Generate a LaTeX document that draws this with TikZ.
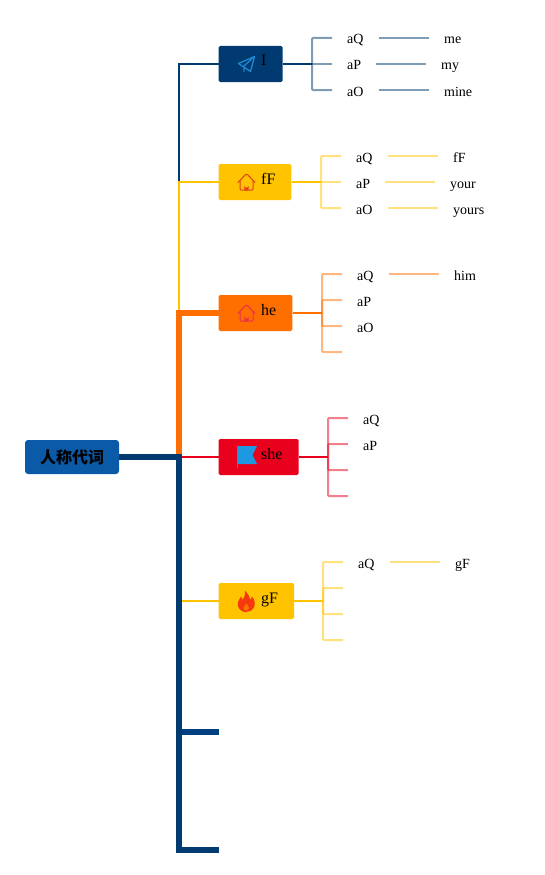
\documentclass[tikz,border=0pt]{standalone}
\usepackage{fontspec}
\setmainfont{Liberation Serif}
\newfontfamily\cjk{Noto Sans CJK SC}
\definecolor{navyb}{HTML}{003A70}
\definecolor{rootb}{HTML}{0B5AA8}
\definecolor{stubb}{HTML}{003F80}
\definecolor{yellowb}{HTML}{FFC300}
\definecolor{orangeb}{HTML}{FF6F00}
\definecolor{redb}{HTML}{E8001C}
\definecolor{iconb}{HTML}{1E88D0}
\definecolor{flagb}{HTML}{1E98E0}
\definecolor{homea}{HTML}{E0401E}
\definecolor{homeb}{HTML}{E8304A}
\definecolor{flameb}{HTML}{F5380F}
\tikzset{
  topic/.style={anchor=west,rounded corners=1.5pt,minimum height=36pt,inner xsep=16pt,inner ysep=0pt,text height=12pt,text depth=8pt,font=\fontsize{16}{18}\selectfont},
  leaf/.style={anchor=west,inner xsep=15pt,inner ysep=0pt,text height=14pt,text depth=2pt,font=\fontsize{14}{16}\selectfont},
  twig/.style={line width=2pt,draw opacity=0.5,rounded corners=1pt},
  limb/.style={line width=2pt},
  trunk/.style={line width=6pt},
  pics/homeicon/.style={code={
    \draw[#1,line width=1pt,line join=round,line cap=round] (-8.5,0.5) -- (-1,-7.5) arc[start angle=-135,end angle=-45,radius=1.4] -- (8.5,0.5);
    \draw[#1,line width=1pt,line join=round,rounded corners=1pt] (-6.5,-1) -- (-6.5,8) -- (6.5,8) -- (6.5,-1);
    \fill[#1] (-2.2,8) -- (-2.2,3.5) arc[start angle=180,end angle=0,radius=2.2] -- (2.2,8) -- cycle;
  }}
}
\begin{document}
\begin{tikzpicture}[x=1pt,y=-1pt]
\useasboundingbox (0,0) rectangle (545,875);

\node[rounded corners=3pt,fill=rootb,minimum width=94pt,minimum height=34pt,inner sep=0pt,font=\cjk\bfseries\fontsize{16}{18}\selectfont,text=black] (root) at (72,457) {人称代词};
\coordinate (fork) at (179,457);
\coordinate (end6) at (219,732);
\coordinate (end7) at (219,850);

\node[topic,fill=navyb] (me) at (218.5,64) {\hspace{26.5pt}I};
\node[topic,fill=yellowb] (you) at (218.5,182) {\hspace{26.5pt}fF};
\node[topic,fill=orangeb] (he) at (218.5,313) {\hspace{26.5pt}he};
\node[topic,fill=redb] (she) at (218.5,457) {\hspace{26.5pt}she};
\node[topic,fill=yellowb] (it) at (218.5,601) {\hspace{26.5pt}gF};

\draw[limb,navyb] (fork) |- (me.west);
\draw[limb,yellowb] (fork) |- (you.west);
\draw[trunk,orangeb] (fork) |- (he.west);
\draw[limb,redb] (fork) -- (she.west);
\draw[limb,yellowb] (fork) |- (it.west);
\draw[trunk,stubb] (fork) |- (end6);
\draw[trunk,navyb] (root.east) -- (fork) |- (end7);

% I
\coordinate (mebar) at (312,64);
\draw[limb,navyb] (me.east) -- (mebar);
\node[leaf] (meq) at (332,38) {aQ};
\node[leaf] (mep) at (332,64) {aP};
\node[leaf] (meo) at (332,90) {aO};
\node[leaf] (meq2) at (429,38) {me};
\node[leaf] (mep2) at (426,64) {my};
\node[leaf] (meo2) at (429,90) {mine};
\draw[twig,navyb] (meq.west) -| (mebar);
\draw[twig,navyb] (mep.west) -- (mebar);
\draw[twig,navyb] (meo.west) -| (mebar);
\draw[twig,navyb] (meq.east) -- (meq2.west);
\draw[twig,navyb] (mep.east) -- (mep2.west);
\draw[twig,navyb] (meo.east) -- (meo2.west);

% fF
\coordinate (youbar) at (321,182);
\draw[limb,yellowb] (you.east) -- (youbar);
\node[leaf] (youq) at (341,156) {aQ};
\node[leaf] (youp) at (341,182) {aP};
\node[leaf] (youo) at (341,208) {aO};
\node[leaf] (youq2) at (438,156) {fF};
\node[leaf] (youp2) at (435,182) {your};
\node[leaf] (youo2) at (438,208) {yours};
\draw[twig,yellowb] (youq.west) -| (youbar);
\draw[twig,yellowb] (youp.west) -- (youbar);
\draw[twig,yellowb] (youo.west) -| (youbar);
\draw[twig,yellowb] (youq.east) -- (youq2.west);
\draw[twig,yellowb] (youp.east) -- (youp2.west);
\draw[twig,yellowb] (youo.east) -- (youo2.west);

% he
\coordinate (hebar) at (322,313);
\coordinate (hes) at (342,352);
\draw[limb,orangeb] (he.east) -- (hebar);
\node[leaf] (heq) at (342,274) {aQ};
\node[leaf] (hep) at (342,300) {aP};
\node[leaf] (heo) at (342,326) {aO};
\node[leaf] (heq2) at (439,274) {him};
\draw[twig,orangeb] (heq.west) -| (hebar);
\draw[twig,orangeb] (hep.west) -| (hebar);
\draw[twig,orangeb] (heo.west) -| (hebar);
\draw[twig,orangeb] (hes) -| (hebar);
\draw[twig,orangeb] (heq.east) -- (heq2.west);

% she
\coordinate (shebar) at (328,457);
\coordinate (shec) at (348,470);
\coordinate (shed) at (348,496);
\draw[limb,redb] (she.east) -- (shebar);
\node[leaf] (sheq) at (348,418) {aQ};
\node[leaf] (shep) at (348,444) {aP};
\draw[twig,redb] (sheq.west) -| (shebar);
\draw[twig,redb] (shep.west) -| (shebar);
\draw[twig,redb] (shec) -| (shebar);
\draw[twig,redb] (shed) -| (shebar);

% gF
\coordinate (itbar) at (323,601);
\coordinate (itb) at (343,588);
\coordinate (itc) at (343,614);
\coordinate (itd) at (343,640);
\draw[limb,yellowb] (it.east) -- (itbar);
\node[leaf] (itq) at (343,562) {aQ};
\node[leaf] (itq2) at (440,562) {gF};
\draw[twig,yellowb] (itq.west) -| (itbar);
\draw[twig,yellowb] (itb) -| (itbar);
\draw[twig,yellowb] (itc) -| (itbar);
\draw[twig,yellowb] (itd) -| (itbar);
\draw[twig,yellowb] (itq.east) -- (itq2.west);

% icons
\draw[iconb,line width=1.3pt,line join=round] (238.5,63.5) -- (254.5,56.5) -- (250.5,71.5) -- cycle;
\draw[iconb,line width=1.3pt,line join=round] (254.5,56.5) -- (244,66) -- (244,71.5);
\pic at (246.5,182) {homeicon=homea};
\pic at (246.5,313) {homeicon=homeb};
\fill[flagb] (237,446) -- (257,446) -- (252.5,455) -- (257,464) -- (237,464) -- cycle;
\draw[iconb!70!gray,line width=1pt] (237,446) -- (237,468);
\fill[flameb] (245,590.5) .. controls (248,595) and (250,596) .. (250.5,600) .. controls (251.5,599) and (252,598) .. (252,596.5) .. controls (255,600) and (255.5,604) .. (254,607) .. controls (252.5,610.5) and (249,612) .. (246,612) .. controls (242,612) and (239,609.5) .. (238,606) .. controls (237.5,602) and (239,599) .. (241,596.5) .. controls (241.5,598) and (242,599) .. (243,599.5) .. controls (244.5,597) and (245.5,594) .. (245,590.5) -- cycle;
\fill[orange!90!red] (246.5,603.5) .. controls (247,605) and (249,606) .. (249,608) .. controls (249,610) and (247.5,610.5) .. (246,610.5) .. controls (244.5,610.5) and (243.5,609.5) .. (243.5,608) .. controls (243.5,606.5) and (245.5,605.5) .. (246.5,603.5) -- cycle;
\end{tikzpicture}
\end{document}
